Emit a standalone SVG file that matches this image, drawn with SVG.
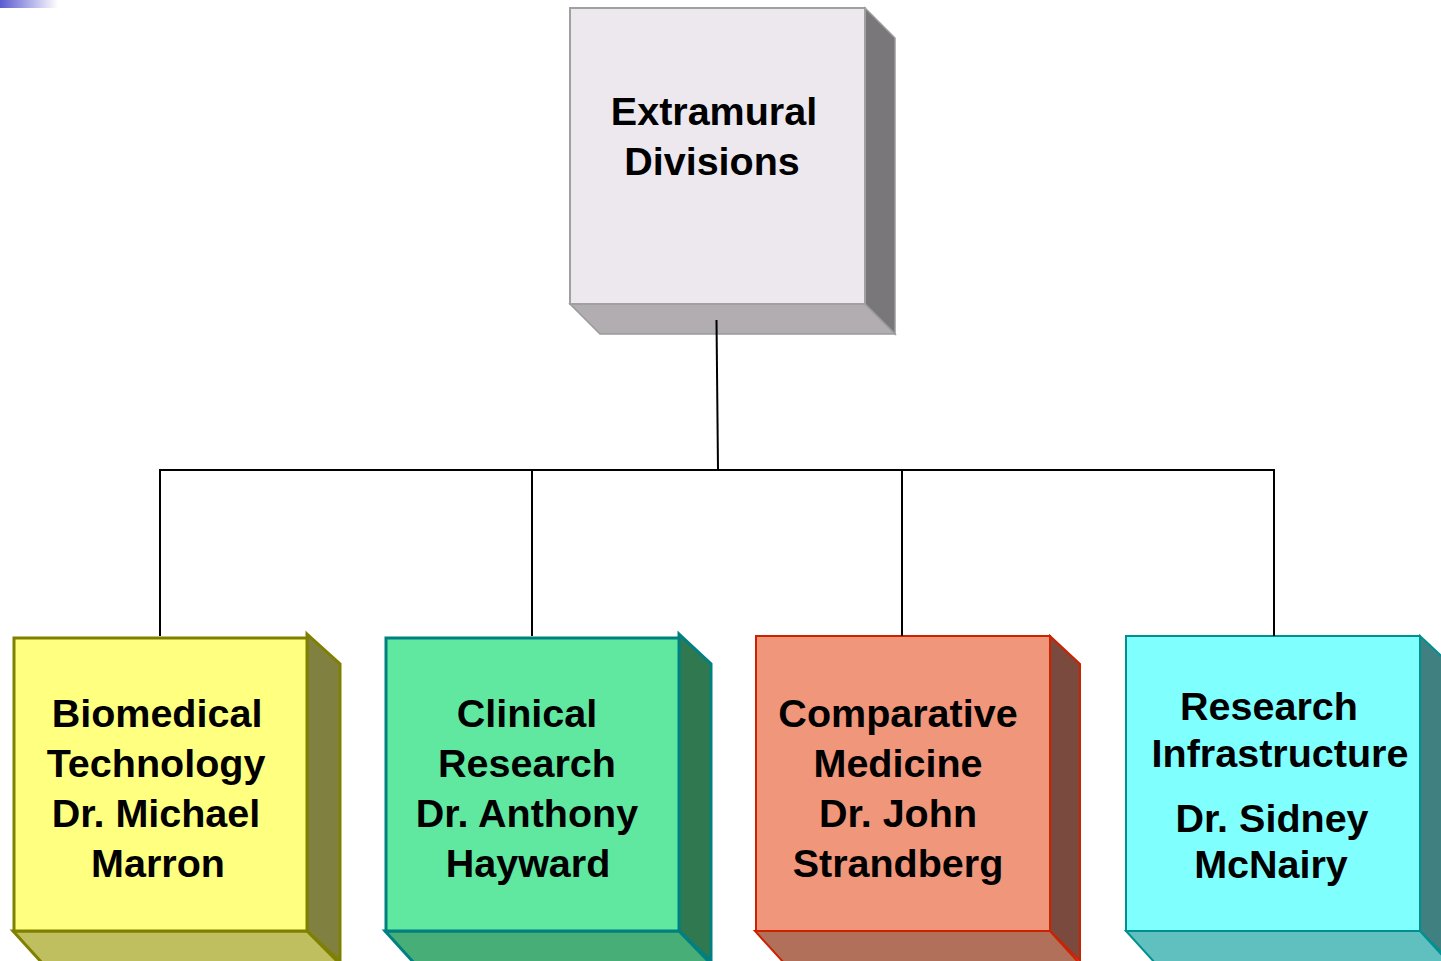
<svg xmlns="http://www.w3.org/2000/svg" width="1441" height="961" viewBox="0 0 1441 961">
<defs>
<linearGradient id="corner" x1="0" y1="0" x2="1" y2="0">
<stop offset="0" stop-color="#5a5ad0"/>
<stop offset="1" stop-color="#ffffff"/>
</linearGradient>
</defs>
<style>
text{font-family:"Liberation Sans",Arial,sans-serif;font-weight:bold;font-size:39.5px;fill:#000;text-anchor:middle}
.conn{stroke:#000;stroke-width:2;fill:none}
</style>
<rect width="1441" height="961" fill="#fff"/>
<rect x="0" y="0" width="58" height="8" fill="url(#corner)"/>
<g id="top">
<polygon points="865,8 895,38 895,334 865,304" fill="#7a777a" stroke="#9a9a9a" stroke-width="1.5"/>
<polygon points="570,304 865,304 895,334 600,334" fill="#b1adb0" stroke="#9a9a9a" stroke-width="1.5"/>
<rect x="570" y="8" width="295" height="296" fill="#ece8ee" stroke="#a0a0a0" stroke-width="2"/>
<text x="714" y="125">Extramural</text>
<text x="712" y="175">Divisions</text>
</g>
<g id="biomedical">
<polygon points="307,634 340,664 340,961 307,931" fill="#808040" stroke="#808000" stroke-width="3"/>
<polygon points="13,931 307,931 340,964 43,964" fill="#bfbf60" stroke="#808000" stroke-width="3"/>
<rect x="14" y="638" width="293" height="293" fill="#ffff80" stroke="#808000" stroke-width="3"/>
<text x="157" y="727">Biomedical</text>
<text x="156" y="777">Technology</text>
<text x="156" y="827">Dr. Michael</text>
<text x="158" y="877">Marron</text>
</g>
<g id="clinical">
<polygon points="679,634 711,664 711,961 679,931" fill="#307850" stroke="#008080" stroke-width="3"/>
<polygon points="385,931 679,931 711,964 415,964" fill="#48ae78" stroke="#008080" stroke-width="3"/>
<rect x="386" y="638" width="293" height="293" fill="#60e8a0" stroke="#008080" stroke-width="3"/>
<text x="527" y="727">Clinical</text>
<text x="527" y="777">Research</text>
<text x="527" y="827">Dr. Anthony</text>
<text x="528" y="877">Hayward</text>
</g>
<g id="comparative">
<polygon points="1050,636 1080,664 1080,961 1050,931" fill="#7a4a3e" stroke="#cc2200" stroke-width="2"/>
<polygon points="755,931 1050,931 1080,964 785,964" fill="#b0705a" stroke="#cc2200" stroke-width="2"/>
<rect x="756" y="636" width="294" height="295" fill="#f0967a" stroke="#cc2200" stroke-width="2"/>
<text x="898" y="727">Comparative</text>
<text x="898" y="777">Medicine</text>
<text x="898" y="827">Dr. John</text>
<text x="898" y="877">Strandberg</text>
</g>
<g id="infrastructure">
<polygon points="1420,636 1450,664 1450,961 1420,931" fill="#408080" stroke="#009090" stroke-width="2"/>
<polygon points="1126,931 1420,931 1450,964 1156,964" fill="#60c0c0" stroke="#009090" stroke-width="2"/>
<rect x="1126" y="636" width="294" height="295" fill="#80ffff" stroke="#009090" stroke-width="2"/>
<text x="1269" y="720">Research</text>
<text x="1280" y="767">Infrastructure</text>
<text x="1272" y="832">Dr. Sidney</text>
<text x="1271" y="878">McNairy</text>
</g>
<g id="connectors">
<line class="conn" x1="716.5" y1="320" x2="718" y2="470" stroke="#103838"/>
<polyline class="conn" points="160,636 160,470 1274,470 1274,636"/>
<line class="conn" x1="532" y1="470" x2="532" y2="636"/>
<line class="conn" x1="902" y1="470" x2="902" y2="636"/>
</g>
</svg>
